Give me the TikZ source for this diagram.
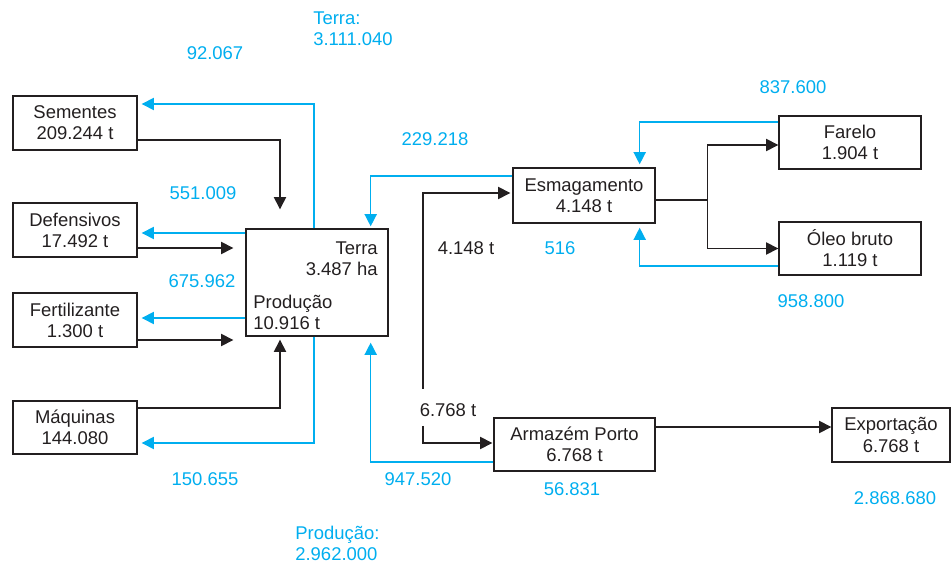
\documentclass[tikz,border=0pt]{standalone}
\usepackage{fontspec}
\setmainfont{Liberation Sans}
\usetikzlibrary{calc, positioning, arrows.meta}

\definecolor{ink}{RGB}{35,31,32}
\definecolor{flowblue}{RGB}{0,174,239}

\tikzset{
  box/.style={draw=ink, line width=0.8pt, text=ink, align=center, inner sep=0pt, minimum height=1.08cm},
  flow/.style={draw=ink, line width=0.8pt, -{Triangle[length=7pt,width=7pt]}},
  back/.style={draw=flowblue, line width=0.8pt, -{Triangle[length=7pt,width=7pt]}},
  val/.style={text=flowblue, inner sep=0pt},
  qty/.style={text=ink, inner sep=0pt}
}

\begin{document}
\begin{tikzpicture}[x=0.02cm, y=-0.02cm, font=\fontsize{10.5}{12}\selectfont]
    \useasboundingbox (0,0) rectangle (951,564);

    % inputs
    \node[box, minimum width=2.48cm] (sem) at (75,123) {Sementes\\209.244 t};
    \node[box, minimum width=2.48cm] (def) at (75,230) {Defensivos\\17.492 t};
    \node[box, minimum width=2.48cm] (fer) at (75,320) {Fertilizante\\1.300 t};
    \node[box, minimum width=2.48cm, minimum height=1.06cm] (maq) at (75,427.5) {Máquinas\\144.080};

    % production
    \node[box, minimum width=2.84cm, minimum height=2.14cm] (prod) at (317,282.5) {};
    \node[qty, align=right, anchor=east] (terra) at (378,258.5) {Terra\\3.487 ha};
    \node[qty, align=left, anchor=west] (colheita) at (253,312.5) {Produção\\10.916 t};

    % processing and export
    \node[box, minimum width=2.84cm, minimum height=1.1cm] (esm) at (584,195.5) {Esmagamento\\4.148 t};
    \node[box, minimum width=2.84cm, minimum height=1.06cm] (far) at (850,142.5) {Farelo\\1.904 t};
    \node[box, minimum width=2.84cm, minimum height=1.06cm] (ole) at (850,248.5) {Óleo bruto\\1.119 t};
    \node[box, minimum width=3.22cm, minimum height=1.06cm] (arm) at (574.5,444.5) {Armazém Porto\\6.768 t};
    \node[box, minimum width=2.36cm] (exp) at (891,435) {Exportação\\6.768 t};

    % black flows
    \coordinate (defin) at ($(def.east)+(0,18)$);
    \coordinate (ferin) at ($(fer.east)+(0,20)$);
    \draw[flow] ($(sem.east)+(0,17)$) -| ($(prod.north)+(-37,-19)$);
    \draw[flow, shorten >=0.24cm] (defin) -- (defin -| prod.west);
    \draw[flow, shorten >=0.24cm] (ferin) -- (ferin -| prod.west);
    \draw[flow] ($(maq.east)+(0,-19.5)$) -| ($(prod.south)+(-37,3)$);

    \coordinate (fork) at ($(esm.east)+(52,4.5)$);
    \draw[ink, line width=0.8pt] ($(esm.east)+(0,4.5)$) -- (fork);
    \draw[flow] (fork) |- ($(far.west)+(0,2.5)$);
    \draw[flow] (fork) |- (ole.west);

    \coordinate (split) at (423,389);
    \coordinate (split2) at (423,426);
    \draw[flow] (split) |- ($(esm.west)+(-2,-2.5)$);
    \draw[flow] (split2) |- ($(arm.west)+(-1,-1.5)$);
    \coordinate (armout) at ($(arm.east)+(0,-17.5)$);
    \draw[flow] (armout) -- (armout -| exp.west);

    % blue flows
    \coordinate (defout) at ($(prod.west)+(0,-49.5)$);
    \coordinate (ferout) at ($(prod.west)+(0,35.5)$);
    \draw[back] ($(prod.north)+(-3,0)$) |- ($(sem.east)+(4,-19)$);
    \draw[back, shorten >=0.08cm] (defout) -- (defout -| def.east);
    \draw[back, shorten >=0.08cm] (ferout) -- (ferout -| fer.east);
    \draw[back] ($(prod.south)+(-3,0)$) |- ($(maq.east)+(4,15.5)$);
    \draw[back] ($(esm.west)+(0,-19.5)$) -| ($(prod.north east)+(-18,-2)$);
    \draw[back] ($(arm.west)+(0,17.5)$) -| ($(prod.south east)+(-18,6)$);
    \draw[back] ($(far.west)+(0,-20.5)$) -| ($(esm.north east)+(-16,-3)$);
    \draw[back] ($(ole.west)+(0,17.5)$) -| ($(esm.south east)+(-16,4)$);

    % values
    \node[val] (v92) at (215,53) {92.067};
    \node[val, align=left, anchor=west] (vterra) at (313,29) {Terra:\\3.111.040};
    \node[val] (v551) at (203,193) {551.009};
    \node[val] (v675) at (202,281) {675.962};
    \node[val] (v150) at (205,479) {150.655};
    \node[val, align=left, anchor=west] (vprod) at (295,543) {Produção:\\2.962.000};
    \node[val] (v229) at (435,139) {229.218};
    \node[val] (v516) at (560,248) {516};
    \node[val] (v837) at (793,87) {837.600};
    \node[val] (v958) at (811,301) {958.800};
    \node[val] (v947) at (418,479) {947.520};
    \node[val] (v56) at (572,489) {56.831};
    \node[val] (v2868) at (895,498) {2.868.680};
    \node[qty] (q4148) at (466,248) {4.148 t};
    \node[qty] (q6768) at (448,410) {6.768 t};
\end{tikzpicture}
\end{document}
